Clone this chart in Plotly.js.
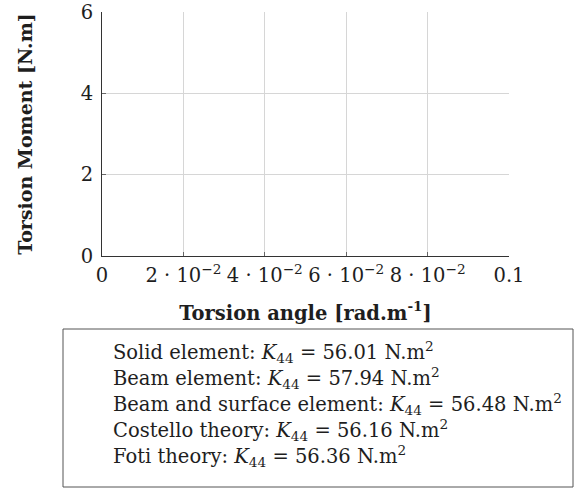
<!DOCTYPE html>
<html>
<head>
<meta charset="utf-8">
<script src="https://cdn.plot.ly/plotly-3.0.1.min.js"></script>
<style>
  html, body { margin: 0; padding: 0; background: #fff; }
  #chart { width: 574px; height: 494px; }
</style>
</head>
<body>
<div id="chart"></div>
<script>
// Legend entries: model name and its torsional stiffness K44 [N.m^2]
const models = [
  "Solid element",
  "Beam element",
  "Beam and surface element",
  "Costello theory",
  "Foti theory"
];
const k44 = [56.01, 57.94, 56.48, 56.16, 56.36];

// Axis ticks
const xTickVals = [0, 0.02, 0.04, 0.06, 0.08, 0.1];
const xTickText = ["0", "2 · 10<sup>−2</sup>", "4 · 10<sup>−2</sup>",
                   "6 · 10<sup>−2</sup>", "8 · 10<sup>−2</sup>", "0.1"];
const yTickVals = [0, 2, 4, 6];

const FONT = "DejaVu Serif, serif";
const INK = "#1e1e1e";
const SIZE = 19.5;

// Plot area in pixels (used to place the legend frame below the axes)
const W = 574, H = 494;
const M = { l: 102, r: 65, t: 12, b: 238 };
const plotW = W - M.l - M.r, plotH = H - M.t - M.b;
const px = v => (v - M.l) / plotW;
const py = v => (H - M.b - v) / plotH;

// Legend frame and rows
const legendBox = { left: 63, right: 573, top: 329, bottom: 487 };
const legendTextX = 111, legendRow0 = 352, legendRowStep = 26;

const legendRows = models.map((m, i) => ({
  xref: "paper", yref: "paper",
  x: px(legendTextX), y: py(legendRow0 + i * legendRowStep),
  xanchor: "left", yanchor: "middle",
  showarrow: false,
  align: "left",
  font: { family: FONT, size: SIZE, color: INK },
  text: m + ": <i>K</i><sub>44</sub> = " + k44[i].toFixed(2) + " N.m<sup>2</sup>"
}));

const traces = [{
  type: "scatter", mode: "lines", x: [], y: [],
  showlegend: false, hoverinfo: "skip"
}];

const layout = {
  width: W,
  height: H,
  margin: M,
  paper_bgcolor: "#fff",
  plot_bgcolor: "#fff",
  font: { family: FONT, size: SIZE, color: INK },
  showlegend: false,
  xaxis: {
    range: [0, 0.1],
    tickvals: xTickVals,
    ticktext: xTickText,
    showgrid: true, gridcolor: "#d6d6d6", gridwidth: 1,
    zeroline: false,
    showline: true, linecolor: "#333", linewidth: 1,
    ticks: "inside", ticklen: 4, tickcolor: "#666",
    ticklabelstandoff: 2,
    tickfont: { family: FONT, size: SIZE, color: INK },
    title: {
      text: "<b>Torsion angle [rad.m<sup>-1</sup>]</b>",
      font: { family: FONT, size: 19.5, color: INK },
      standoff: 19
    }
  },
  yaxis: {
    range: [0, 6],
    tickvals: yTickVals,
    showgrid: true, gridcolor: "#d6d6d6", gridwidth: 1,
    zeroline: false,
    showline: true, linecolor: "#333", linewidth: 1,
    ticks: "inside", ticklen: 4, tickcolor: "#666",
    ticklabelstandoff: 4,
    tickfont: { family: FONT, size: SIZE, color: INK },
    title: {
      text: "<b>Torsion Moment [N.m]</b>",
      font: { family: FONT, size: 19, color: INK },
      standoff: 43
    }
  },
  annotations: legendRows,
  shapes: [{
    type: "rect", xref: "paper", yref: "paper",
    x0: px(legendBox.left), x1: px(legendBox.right),
    y0: py(legendBox.bottom), y1: py(legendBox.top),
    line: { color: "#555", width: 1 },
    fillcolor: "rgba(0,0,0,0)",
    layer: "below"
  }]
};

Plotly.newPlot("chart", traces, layout, { displayModeBar: false, staticPlot: true });
</script>
</body>
</html>
